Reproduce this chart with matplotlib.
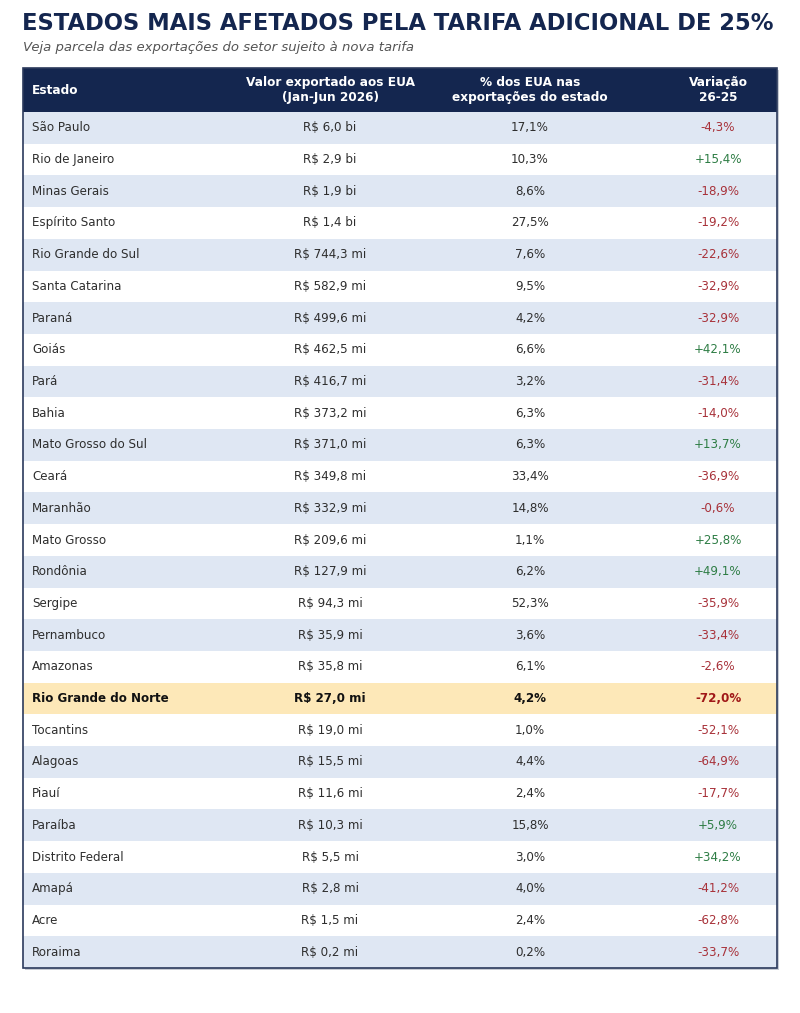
import matplotlib.pyplot as plt
from matplotlib.patches import Rectangle

# Dados da tabela
estados = ["São Paulo", "Rio de Janeiro", "Minas Gerais", "Espírito Santo",
           "Rio Grande do Sul", "Santa Catarina", "Paraná", "Goiás", "Pará",
           "Bahia", "Mato Grosso do Sul", "Ceará", "Maranhão", "Mato Grosso",
           "Rondônia", "Sergipe", "Pernambuco", "Amazonas", "Rio Grande do Norte",
           "Tocantins", "Alagoas", "Piauí", "Paraíba", "Distrito Federal",
           "Amapá", "Acre", "Roraima"]
valores = ["R$ 6,0 bi", "R$ 2,9 bi", "R$ 1,9 bi", "R$ 1,4 bi", "R$ 744,3 mi",
           "R$ 582,9 mi", "R$ 499,6 mi", "R$ 462,5 mi", "R$ 416,7 mi",
           "R$ 373,2 mi", "R$ 371,0 mi", "R$ 349,8 mi", "R$ 332,9 mi",
           "R$ 209,6 mi", "R$ 127,9 mi", "R$ 94,3 mi", "R$ 35,9 mi",
           "R$ 35,8 mi", "R$ 27,0 mi", "R$ 19,0 mi", "R$ 15,5 mi",
           "R$ 11,6 mi", "R$ 10,3 mi", "R$ 5,5 mi", "R$ 2,8 mi", "R$ 1,5 mi",
           "R$ 0,2 mi"]
pct_eua = ["17,1%", "10,3%", "8,6%", "27,5%", "7,6%", "9,5%", "4,2%", "6,6%",
           "3,2%", "6,3%", "6,3%", "33,4%", "14,8%", "1,1%", "6,2%", "52,3%",
           "3,6%", "6,1%", "4,2%", "1,0%", "4,4%", "2,4%", "15,8%", "3,0%",
           "4,0%", "2,4%", "0,2%"]
variacao = [-4.3, 15.4, -18.9, -19.2, -22.6, -32.9, -32.9, 42.1, -31.4, -14.0,
            13.7, -36.9, -0.6, 25.8, 49.1, -35.9, -33.4, -2.6, -72.0, -52.1,
            -64.9, -17.7, 5.9, 34.2, -41.2, -62.8, -33.7]
destaque = "Rio Grande do Norte"

cabecalho = ["Estado", "Valor exportado aos EUA\n(Jan-Jun 2026)",
             "% dos EUA nas\nexportações do estado", "Variação\n26-25"]

NAVY = "#14264f"
STRIPE = "#dfe7f3"
HILITE = "#fde8b8"
TXT = "#2e2e2e"
RED = "#a8323a"
GREEN = "#2e7d45"

fig = plt.figure(figsize=(8, 10.13), dpi=100)
ax = fig.add_axes([0, 0, 1, 1])
ax.set_xlim(0, 800)
ax.set_ylim(1013, 0)
ax.axis("off")

x0, x1 = 23, 777
head_top, head_bot = 68, 112
row_h = (968 - head_bot) / len(estados)
col_x = [32, 330, 530, 718]

titulo = fig.text(22 / 800, 1 - 24 / 1013, "ESTADOS MAIS AFETADOS PELA TARIFA ADICIONAL DE 25%",
                  fontsize=17, fontweight="bold", color=NAVY, va="center", ha="left")
# ajusta o tamanho do título à largura da tabela
r = fig.canvas.get_renderer()
w = titulo.get_window_extent(r).width
titulo.set_fontsize(17 * 751 / w)

fig.text(23 / 800, 1 - 48 / 1013, "Veja parcela das exportações do setor sujeito à nova tarifa",
         fontsize=9.5, style="italic", color="#555555", va="center", ha="left")

# sombra e cabeçalho
ax.add_patch(Rectangle((x0 + 2, head_top + 2), x1 - x0, 968 - head_top,
                       facecolor="#c8ccd4", edgecolor="none", zorder=0))
ax.add_patch(Rectangle((x0, head_top), x1 - x0, head_bot - head_top,
                       facecolor=NAVY, edgecolor="none", zorder=1))
yc = (head_top + head_bot) / 2
for i, h in enumerate(cabecalho):
    ax.text(col_x[i], yc, h, color="white", fontsize=8.7, fontweight="bold",
            ha="left" if i == 0 else "center", va="center", linespacing=1.15, zorder=3)

for i, est in enumerate(estados):
    top = head_bot + i * row_h
    bold = est == destaque
    fc = HILITE if bold else (STRIPE if i % 2 == 0 else "white")
    ax.add_patch(Rectangle((x0, top), x1 - x0, row_h, facecolor=fc,
                           edgecolor="none", zorder=1))
    ym = top + row_h / 2
    w = "bold" if bold else "normal"
    tc = "#111111" if bold else TXT
    ax.text(col_x[0], ym, est, fontsize=8.6, color=tc, fontweight=w,
            ha="left", va="center", zorder=3)
    ax.text(col_x[1], ym, valores[i], fontsize=8.6, color=tc, fontweight=w,
            ha="center", va="center", zorder=3)
    ax.text(col_x[2], ym, pct_eua[i], fontsize=8.6, color=tc, fontweight=w,
            ha="center", va="center", zorder=3)
    v = variacao[i]
    lab = f"{v:+.1f}%".replace(".", ",")
    vc = GREEN if v > 0 else RED
    if bold:
        vc = "#a01818"
    ax.text(col_x[3], ym, lab, fontsize=8.6, color=vc, fontweight=w,
            ha="center", va="center", zorder=3)

ax.add_patch(Rectangle((x0, head_top), x1 - x0, 968 - head_top, facecolor="none",
                       edgecolor="#2b3a5c", linewidth=1.2, zorder=4))

fig.savefig("out.png", dpi=100, facecolor="white")
